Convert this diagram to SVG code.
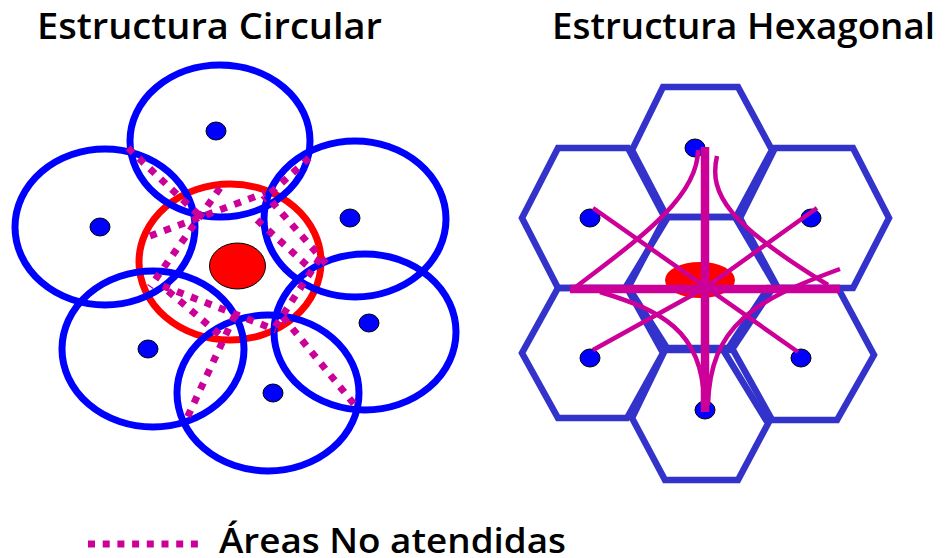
<svg xmlns="http://www.w3.org/2000/svg" width="946" height="558" viewBox="0 0 946 558">
<style>
.t{font-family:"Open Sans","DejaVu Sans",sans-serif;font-weight:600;fill:#000}
.bc{fill:none;stroke:#0000FF;stroke-width:7}
.rc{fill:none;stroke:#FF0000;stroke-width:7}
.dot{fill:#0000FF;stroke:#000;stroke-width:1}
.dl{stroke:#CC0099;stroke-width:7;stroke-dasharray:7 8;fill:none}
.hx{fill:none;stroke:#3333CC;stroke-width:6.5;stroke-linejoin:miter}
.ml{stroke:#CC0099;fill:none;stroke-width:4.5}
.mt{stroke:#CC0099;fill:none;stroke-width:8.5}
</style>
<rect width="946" height="558" fill="#fff"/>
<text class="t" x="37" y="39" font-size="36" textLength="345" lengthAdjust="spacingAndGlyphs">Estructura Circular</text>
<text class="t" x="552" y="39" font-size="36" textLength="383" lengthAdjust="spacingAndGlyphs">Estructura Hexagonal</text>

<g id="circular">
  <g id="red-cell">
    <ellipse class="rc" cx="230" cy="262" rx="91" ry="78"/>
    <ellipse cx="237.5" cy="266" rx="28" ry="23" fill="#FF0000" stroke="#000" stroke-width="1"/>
  </g>
  <g id="c-top"><ellipse class="bc" cx="220" cy="141" rx="90" ry="76"/><ellipse class="dot" cx="216" cy="131" rx="10" ry="9"/></g>
  <g id="c-left"><ellipse class="bc" cx="105" cy="227" rx="90" ry="78"/><ellipse class="dot" cx="100" cy="227" rx="10" ry="9"/></g>
  <g id="c-right"><ellipse class="bc" cx="355" cy="219" rx="91" ry="78"/><ellipse class="dot" cx="350" cy="218" rx="10" ry="9"/></g>
  <g id="c-botleft"><ellipse class="bc" cx="153" cy="349" rx="91" ry="78"/><ellipse class="dot" cx="148" cy="349" rx="10" ry="9"/></g>
  <g id="c-botright"><ellipse class="bc" cx="365" cy="332" rx="91" ry="78"/><ellipse class="dot" cx="369" cy="323" rx="10" ry="9"/></g>
  <g id="c-bottom"><ellipse class="bc" cx="268" cy="393" rx="91" ry="78"/><ellipse class="dot" cx="273" cy="393" rx="10" ry="9"/></g>
</g>

<g id="connectors-dotted">
  <line class="dl" x1="128" y1="148" x2="202" y2="218"/>
  <line class="dl" x1="309" y1="158" x2="263" y2="200"/>
  <line class="dl" x1="272" y1="202" x2="330" y2="268"/>
  <line class="dl" x1="220" y1="188" x2="150" y2="287"/>
  <line class="dl" x1="150" y1="236" x2="265" y2="193"/>
  <line class="dl" x1="257" y1="220" x2="312" y2="270"/>
  <line class="dl" x1="320" y1="258" x2="273" y2="330"/>
  <line class="dl" x1="283" y1="317" x2="354" y2="404"/>
  <line class="dl" x1="163" y1="286" x2="276" y2="330"/>
  <line class="dl" x1="168" y1="291" x2="226" y2="340"/>
  <line class="dl" x1="235" y1="315" x2="187" y2="418"/>
</g>

<g id="hexagonal">
  <g id="h-top"><polygon class="hx" points="663,87 738,87 772,150 736,217 667,217 632,150"/></g>
  <g id="h-topleft"><polygon class="hx" points="558,148 628,148 665,218 628,288 558,288 522,218"/></g>
  <g id="h-topright"><polygon class="hx" points="775,148 853,148 889,218 853,288 778,288 740,218"/></g>
  <g id="h-center"><polygon class="hx" points="668,217 735,217 775,285 733,348 667,348 627,285"/></g>
  <g id="h-botleft"><polygon class="hx" points="558,288 627,288 663,353 627,418 558,418 522,353"/></g>
  <g id="h-bottom"><polygon class="hx" points="665,350 733,350 771,418 738,480 665,480 632,418"/></g>
  <g id="h-botright"><polygon class="hx" points="768,288 838,288 874,355 837,420 766,420 725,353"/></g>
  <ellipse cx="700" cy="280" rx="35" ry="18" fill="#FF0000"/>
  <ellipse class="dot" cx="695" cy="148" rx="10" ry="9"/>
  <ellipse class="dot" cx="590" cy="218" rx="10" ry="9"/>
  <ellipse class="dot" cx="811" cy="218" rx="10" ry="9"/>
  <ellipse class="dot" cx="590" cy="358" rx="10" ry="9"/>
  <ellipse class="dot" cx="801" cy="358" rx="10" ry="9"/>
  <ellipse class="dot" cx="705" cy="410" rx="10" ry="9"/>
</g>

<g id="connectors-hex">
  <line class="ml" x1="593" y1="208" x2="798" y2="352"/>
  <polyline class="ml" points="817,208 705,288 593,350"/>
  <path class="ml" d="M698,150 C698,200 630,245 572,290"/>
  <path class="ml" d="M717,156 C708,195 730,225 828,285"/>
  <path class="ml" d="M600,292 C660,310 702,330 704,400"/>
  <path class="ml" d="M840,269 C755,300 710,325 708,405"/>
  <line class="mt" x1="705" y1="147" x2="705" y2="412"/>
  <line class="mt" x1="570" y1="289" x2="840" y2="289"/>
</g>

<g id="legend">
  <line x1="88" y1="544" x2="203" y2="544" stroke="#CC0099" stroke-width="7" stroke-dasharray="7 7.7"/>
  <text class="t" x="219" y="553" font-size="34" textLength="347" lengthAdjust="spacingAndGlyphs">Áreas No atendidas</text>
</g>
</svg>
